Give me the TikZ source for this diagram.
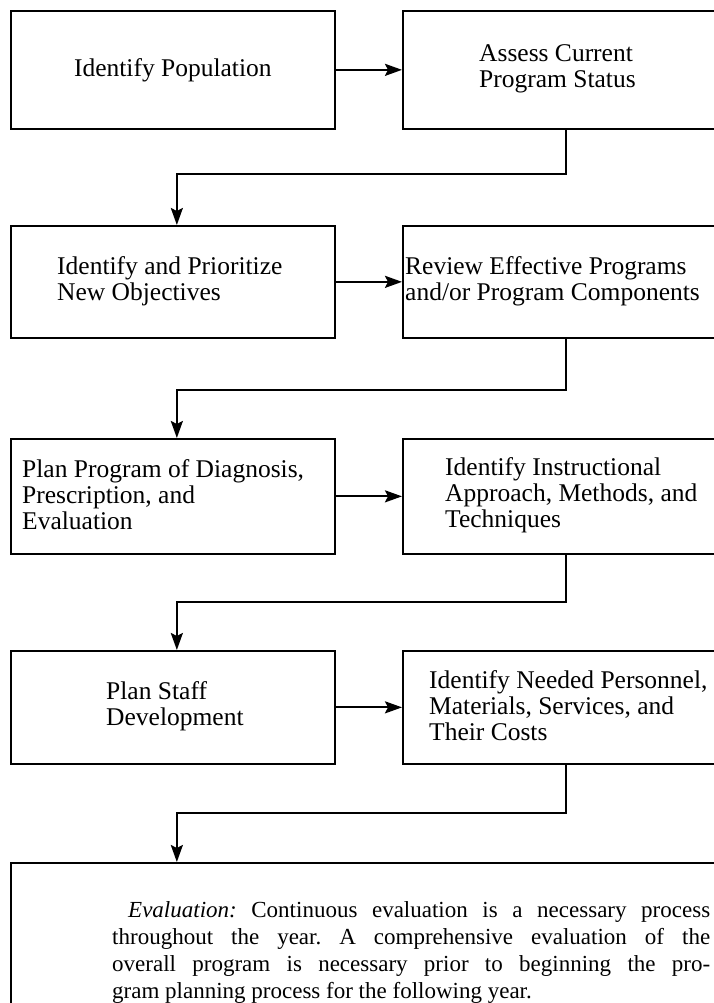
\documentclass[tikz,border=0pt]{standalone}
\usepackage{fontspec}
\setmainfont{Liberation Serif}
\usetikzlibrary{arrows.meta,calc}
\frenchspacing
\begin{document}
\begin{tikzpicture}[x=1pt,y=-1pt,
  box/.style={draw, line width=1.7pt, inner sep=0pt, anchor=north west},
  lbox/.style={box, minimum width=324pt},
  rbox/.style={box, minimum width=326pt},
  lbl/.style={anchor=west, align=left, inner sep=0pt, font=\fontsize{25.5}{26}\selectfont},
  arr/.style={line width=2.2pt, -{Stealth[length=17pt,width=12pt,inset=3pt]}}]
\useasboundingbox (0,0) rectangle (714,1003);
% row 1
\node[lbox, minimum height=118pt] (b1) at (10,10) {};
\node[rbox, minimum height=118pt] (b2) at (402,10) {};
\node[lbl, anchor=center] (t1) at (b1.center) {Identify Population};
\node[lbl] (t2) at (479,69) {Assess Current\\Program Status};
% row 2
\node[lbox, minimum height=112pt] (b3) at (10,225) {};
\node[rbox, minimum height=112pt] (b4) at (402,225) {};
\node[lbl] (t3) at (57,281) {Identify and Prioritize\\New Objectives};
\node[lbl] (t4) at (405,281) {Review Effective Programs\\and/or Program Components};
% row 3
\node[lbox, minimum height=115pt] (b5) at (10,438) {};
\node[rbox, minimum height=115pt] (b6) at (402,438) {};
\node[lbl] (t5) at (22,495) {Plan Program of Diagnosis,\\Prescription, and\\Evaluation};
\node[lbl] (t6) at (445,495) {Identify Instructional\\Approach, Methods, and\\Techniques};
% row 4
\node[lbox, minimum height=113pt] (b7) at (10,650) {};
\node[rbox, minimum height=113pt] (b8) at (402,650) {};
\node[lbl] (t7) at (106,706) {Plan Staff\\Development};
\node[lbl] (t8) at (429,706) {Identify Needed Personnel,\\Materials, Services, and\\Their Costs};
% evaluation box
\node[box, minimum width=730pt, minimum height=170pt] (b9) at (10,862) {};
\node[lbl, anchor=north west, align=justify, text width=598pt,
      font=\fontsize{23}{27}\selectfont] (t9) at (112,901)
 {\hspace*{16pt}\textit{Evaluation:} Continuous evaluation is a necessary process\linebreak
  throughout the year. A comprehensive evaluation of the\linebreak
  overall program is necessary prior to beginning the pro-\linebreak
  gram planning process for the following year.};
% connectors
\coordinate (h1) at (0,174);
\coordinate (h2) at (0,390);
\coordinate (h3) at (0,602);
\coordinate (h4) at (0,813);
\draw[arr] (b1.east) -- (b2.west);
\draw[arr] (b3.east) -- (b4.west);
\draw[arr] (b5.east) -- (b6.west);
\draw[arr] (b7.east) -- (b8.west);
\draw[arr] (b2.south) -- (b2.south |- h1) -| ([xshift=4pt]b3.north);
\draw[arr] (b4.south) -- (b4.south |- h2) -| ([xshift=4pt]b5.north);
\draw[arr] (b6.south) -- (b6.south |- h3) -| ([xshift=4pt]b7.north);
\draw[arr] (b8.south) -- (b8.south |- h4) -| ([xshift=4pt]b9.north west -| b7.north);
\end{tikzpicture}
\end{document}
